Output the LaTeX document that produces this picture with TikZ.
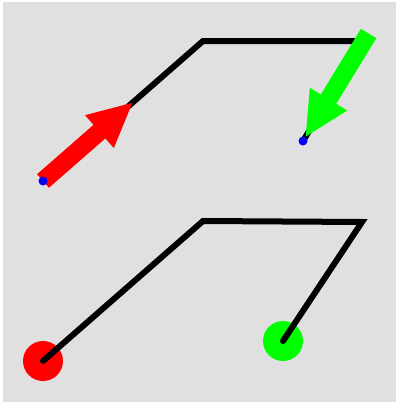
\documentclass[tikz,border=0pt]{standalone}
\usetikzlibrary{arrows.meta,calc}
\definecolor{bgray}{HTML}{E0E0E0}
\definecolor{lime}{HTML}{00FF00}
\tikzstyle{wire}=[line width=6pt, line cap=round]
\tikzstyle{fatarrow}=[line width=18pt, -{Triangle[width=40pt,length=45pt]}]
\tikzstyle{pin}=[circle, fill=blue, inner sep=0pt, minimum size=9pt]
\tikzstyle{knob}=[circle, inner sep=0pt, minimum size=40pt]
\begin{document}
\begin{tikzpicture}[x=1pt,y=-1pt]
\useasboundingbox (0,0) rectangle (396,402);
\fill[bgray] (3,2) rectangle (396,402);
% upper path
\coordinate (S1) at (43,181);
\coordinate (A1) at (203,41);
\coordinate (B1) at (364,41);
\coordinate (E1) at (303,141);
\draw[wire] (S1) -- (A1) -- (B1) -- (E1);
\draw[fatarrow, red] (S1) -- ($(S1)!120pt!(A1)$);
\draw[fatarrow, lime] ($(E1)!126pt!(B1)$) -- ($(E1)!4pt!(B1)$);
\node[pin] (P1) at (S1) {};
\node[pin] (P2) at (E1) {};
% lower path
\coordinate (A2) at (203,221);
\coordinate (B2) at (362,222);
\node[knob, fill=red] (S2) at (43,361) {};
\node[knob, fill=lime] (E2) at (283,341) {};
\draw[wire] (S2.center) -- (A2) -- (B2) -- (E2.center);
\end{tikzpicture}
\end{document}
